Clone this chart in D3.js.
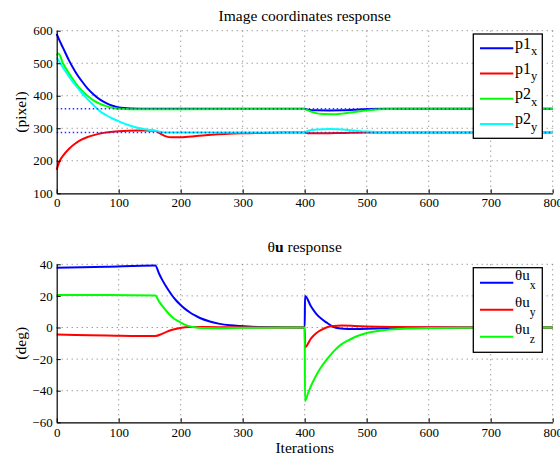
<!DOCTYPE html>
<html>
<head>
<meta charset="utf-8">
<script src="https://cdn.jsdelivr.net/npm/d3@7"></script>
<style>
  body { margin: 0; background: #fff; }
  svg { display: block; }
  svg text { font-family: 'Liberation Serif', 'Times New Roman', 'DejaVu Serif', serif; }
</style>
</head>
<body>
<script>
// values: [iteration, value]
const p1x = [[0,590],[2,581],[5,568],[10,548],[20,508],[30,474],[40,446],[50,422],[60,403],[70,388],[80,377],[90,369],[100,364],[120,361],[150,360],[400,360],[405,357],[420,355],[440,354.5],[460,355],[480,357],[500,359],[530,360],[800,360]];
const p1y = [[0,172],[2,185],[5,200],[10,215],[20,237],[30,253],[40,265],[50,273],[60,279],[70,284],[80,287],[100,291],[130,293],[158,292.5],[165,286],[175,276],[185,272],[200,272.5],[225,276],[250,280],[300,284.5],[350,286.5],[400,287],[405,285],[430,284.5],[460,285.5],[500,287],[800,287]];
const p2x = [[0,524],[3,530],[10,500],[20,468],[30,440],[40,417],[50,399],[60,385],[70,375],[80,368],[90,363],[100,360],[120,358.5],[200,358.5],[400,359.5],[405,355],[415,348],[430,343.5],[445,343],[460,345],[480,350],[500,355],[520,358.5],[550,360],[800,360]];
const p2y = [[0,518],[10,487],[20,459],[30,433],[40,410],[50,389],[60,370],[70,352],[80,340],[90,330],[100,321],[120,307],[140,298],[160,292],[170,288],[180,287],[400,287],[405,292],[420,296.5],[440,297.5],[460,296],[480,293],[500,290],[530,288],[800,287.5]];
const desired = [360, 287];

const tux = [[0,37.8],[80,38.5],[159,39.2],[165,34.2],[170,30.3],[177,25.6],[185,20.9],[192,17.4],[199,14.6],[207,11.8],[215,9.5],[223,7.6],[231,6],[247,3.8],[263,2.3],[280,1.4],[296,0.9],[330,0.3],[400,0],[400.5,20],[410,13.5],[419,8.5],[427,5.5],[435,3.2],[446,0.5],[455,-0.5],[470,-1],[500,-0.8],[530,-0.4],[570,-0.1],[600,0],[800,0]];
const tuy = [[0,-4.5],[80,-5],[159,-5.4],[170,-4],[177,-2.8],[188,-1.3],[199,-0.3],[215,0.3],[240,0.3],[280,0.1],[400,0],[400.5,-12.5],[410,-7],[419,-3.5],[427,-1.5],[435,0],[446,0.9],[460,1.2],[480,1],[500,0.7],[540,0.3],[600,0.1],[800,0]];
const tuz = [[0,20.5],[80,20.6],[159,20.2],[165,16.5],[171.5,13],[180,9],[188,6],[196,4],[204,2.3],[212,1],[220,0.3],[235,-0.3],[260,-0.4],[300,-0.2],[400,0],[400.5,-46.5],[405,-42],[409,-38],[417,-31.5],[425,-26],[435,-20.5],[446,-15.4],[458,-11],[473,-7.6],[486,-5.2],[500,-3.5],[533,-1.5],[565,-0.7],[600,-0.3],[650,-0.1],[800,0]];

const xTicks = [0,100,200,300,400,500,600,700,800];
const topTicks = [100,200,300,400,500,600];
const botTicks = [-60,-40,-20,0,20,40];

const width = 560, height = 457;
const left = 56.7, right = 552.7;

const svg = d3.select("body").append("svg")
    .attr("width", width)
    .attr("height", height);

const x = d3.scaleLinear().domain([0, 800]).range([left, right]);

function panel(opts) {
  const y = d3.scaleLinear().domain(opts.domain).range([opts.bottom, opts.top]);
  const g = svg.append("g");

  // dotted grid
  g.append("g")
    .attr("stroke", "#777")
    .attr("stroke-width", 1)
    .attr("stroke-dasharray", "1,4")
    .call(s => s.selectAll("line.v").data(xTicks.slice(1)).join("line")
      .attr("x1", d => x(d)).attr("x2", d => x(d))
      .attr("y1", opts.top).attr("y2", opts.bottom))
    .call(s => s.selectAll("line.h").data(opts.ticks.slice(1)).join("line")
      .attr("x1", left).attr("x2", right)
      .attr("y1", d => y(d)).attr("y2", d => y(d)));

  const line = d3.line()
    .curve(d3.curveMonotoneX)
    .x(d => x(d[0]))
    .y(d => y(d[1]));

  g.append("g")
    .attr("fill", "none")
    .attr("stroke-width", 2)
    .selectAll("path")
    .data(opts.series)
    .join("path")
    .attr("stroke", d => d.color)
    .attr("d", d => line(d.values));

  if (opts.refs) {
    g.append("g")
      .attr("stroke", "#3030ff")
      .attr("stroke-width", 1.5)
      .attr("stroke-dasharray", "1.5,2.5")
      .selectAll("line")
      .data(opts.refs)
      .join("line")
      .attr("x1", left).attr("x2", right)
      .attr("y1", d => y(d)).attr("y2", d => y(d));
  }

  const xa = g.append("g")
    .attr("transform", `translate(0,${opts.bottom})`)
    .call(d3.axisBottom(x).tickValues(xTicks).tickSizeInner(-4).tickSizeOuter(0).tickPadding(opts.xpad));
  const ya = g.append("g")
    .attr("transform", `translate(${left},0)`)
    .call(d3.axisLeft(y).tickValues(opts.ticks).tickSizeInner(-4).tickSizeOuter(0).tickPadding(4)
      .tickFormat(d => d < 0 ? "\u2212" + Math.abs(d) : d));
  [xa, ya].forEach(a => {
    a.attr("font-size", 13);
    a.select(".domain").attr("stroke", "#000").attr("stroke-width", 1.2);
    a.selectAll(".tick line").attr("stroke", "#000");
    a.selectAll(".tick text").attr("fill", "#000");
  });

  // titles
  g.append("text")
    .attr("x", (left + right) / 2).attr("y", opts.titleY)
    .attr("text-anchor", "middle").attr("font-size", 15.5)
    .call(opts.title);
  g.append("text")
    .attr("transform", `translate(25.5,${(opts.top + opts.bottom) / 2}) rotate(-90)`)
    .attr("text-anchor", "middle").attr("font-size", 15.5)
    .text(opts.ylabel);

  // legend
  const lg = g.append("g");
  lg.append("rect")
    .attr("x", 473.3).attr("y", opts.legend.top)
    .attr("width", 69).attr("height", opts.legend.h)
    .attr("fill", "#fff").attr("stroke", "#000").attr("stroke-width", 1.3);
  opts.series.forEach((s, i) => {
    const ly = opts.legend.first + i * opts.legend.step;
    lg.append("line")
      .attr("x1", 480).attr("x2", 513.3)
      .attr("y1", ly).attr("y2", ly)
      .attr("stroke", s.color).attr("stroke-width", 2);
    const t = lg.append("text")
      .attr("x", 515).attr("y", ly + opts.legend.dy)
      .attr("font-size", opts.legend.fs);
    t.append("tspan").text(s.name);
    t.append("tspan").attr("font-size", opts.legend.fs * 0.78).attr("dy", opts.legend.sub).text(s.sub);
  });
}

panel({
  domain: [100, 600], top: 30.7, bottom: 193.3, ticks: topTicks, xpad: 4.5,
  series: [
    {values: p1x, color: "#0000ff", name: "p1", sub: "x"},
    {values: p1y, color: "#ff0000", name: "p1", sub: "y"},
    {values: p2x, color: "#00ff00", name: "p2", sub: "x"},
    {values: p2y, color: "#00ffff", name: "p2", sub: "y"}
  ],
  refs: desired,
  titleY: 20.5,
  title: t => t.text("Image coordinates response"),
  ylabel: "(pixel)",
  legend: {top: 34, h: 104.3, first: 48.3, step: 25.2, dy: 0.5, sub: 6.3, fs: 16}
});

panel({
  domain: [-60, 40], top: 264.3, bottom: 422.3, ticks: botTicks, xpad: 5.5,
  series: [
    {values: tux, color: "#0000ff", name: "\u03b8u", sub: "x"},
    {values: tuy, color: "#ff0000", name: "\u03b8u", sub: "y"},
    {values: tuz, color: "#00ff00", name: "\u03b8u", sub: "z"}
  ],
  titleY: 251.5,
  title: t => {
    t.append("tspan").text("\u03b8");
    t.append("tspan").attr("font-weight", "bold").text("u");
    t.append("tspan").text(" response");
  },
  ylabel: "(deg)",
  legend: {top: 267.7, h: 84.6, first: 282.7, step: 27, dy: -2.5, sub: 8.5, fs: 15}
});

svg.append("text")
  .attr("x", (left + right) / 2).attr("y", 452.5)
  .attr("text-anchor", "middle").attr("font-size", 15.5)
  .text("Iterations");
</script>
</body>
</html>
